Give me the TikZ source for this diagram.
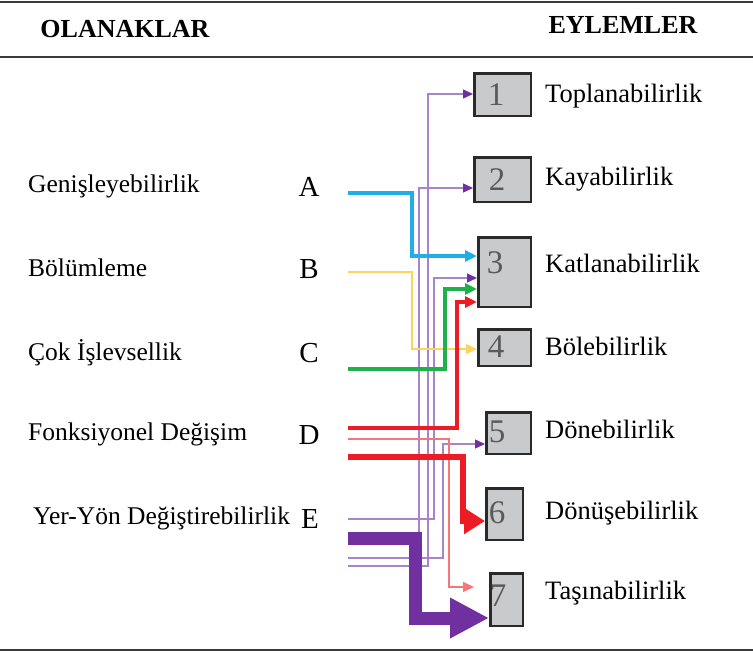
\documentclass[tikz,border=0pt]{standalone}
\usepackage{fontspec}
\setmainfont{Liberation Serif}
\usepackage{xcolor}
\usepackage{tikz}
\usetikzlibrary{arrows.meta, positioning}

\definecolor{boxgray}{HTML}{C9CACC}
\definecolor{boxedge}{HTML}{2A2A2A}
\definecolor{numgray}{HTML}{5A5A5A}
\definecolor{rulegray}{HTML}{3A3A3A}
\definecolor{skyblue}{HTML}{1FAFE6}
\definecolor{softyellow}{HTML}{FFD45C}
\definecolor{leafgreen}{HTML}{1EB04A}
\definecolor{brightred}{HTML}{ED1C24}
\definecolor{palered}{HTML}{F47676}
\definecolor{darkpurple}{HTML}{7030A0}
\definecolor{lightpurple}{HTML}{A884CB}

\begin{document}
\begin{tikzpicture}[x=1pt, y=-1pt,
        num_box/.style={rectangle, draw=boxedge, fill=boxgray, line width=2.5pt, inner sep=0pt},
        num_text/.style={text=numgray, inner sep=0pt, font=\fontsize{33}{37}\selectfont},
        side_label/.style={anchor=west, inner sep=0pt, font=\fontsize{25.5}{30}\selectfont},
        act_label/.style={anchor=west, inner sep=0pt, font=\fontsize{26.5}{31}\selectfont},
        letter/.style={inner sep=0pt, font=\fontsize{29}{34}\selectfont},
        head/.style={inner sep=0pt, font=\fontsize{26}{30}\selectfont\bfseries},
        rule/.style={line width=2pt, rulegray},
        thin_purple/.style={line width=1.3pt, lightpurple, -{Triangle[length=10pt, width=9pt, color=darkpurple]}},
        mid_arrow/.style={line width=3.5pt, #1, -{Triangle[length=12pt, width=11pt]}},
        fine_arrow/.style={line width=1.3pt, #1, -{Triangle[length=11pt, width=10pt]}}
    ]
    \useasboundingbox (0,0) rectangle (753,653);

    % Table rules
    \draw[rule] (0,2) -- (753,2);
    \draw[rule] (0,57) -- (753,57);
    \draw[rule] (0,650) -- (753,650);

    % Headers
    \node[head] (olanak) at (125,29) {OLANAKLAR};
    \node[head] (eylem) at (623,25) {EYLEMLER};

    % Affordances
    \node[side_label] (gen) at (28,186) {Genişleyebilirlik};
    \node[side_label] (bol) at (28,268) {Bölümleme};
    \node[side_label] (cok) at (28,353) {Çok İşlevsellik};
    \node[side_label] (fon) at (28,434) {Fonksiyonel Değişim};
    \node[side_label] (yer) at (33,518) {Yer-Yön Değiştirebilirlik};

    \node[letter] (la) at (309,187) {A};
    \node[letter] (lb) at (309,269) {B};
    \node[letter] (lc) at (309,353) {C};
    \node[letter] (ld) at (309,435) {D};
    \node[letter] (le) at (310,519) {E};

    % Action boxes
    \node[num_box, minimum width=56.5, minimum height=42.5] (box1) at (502.5,94.5) {};
    \node[num_box, minimum width=56.5, minimum height=44.5] (box2) at (502.5,179.5) {};
    \node[num_box, minimum width=52.5, minimum height=69.5] (box3) at (504.5,272) {};
    \node[num_box, minimum width=52.5, minimum height=36.5] (box4) at (504.5,347.5) {};
    \node[num_box, minimum width=44.5, minimum height=41.5] (box5) at (508.5,433) {};
    \node[num_box, minimum width=36.5, minimum height=51.5] (box6) at (504.5,514) {};
    \node[num_box, minimum width=32.5, minimum height=52.5] (box7) at (506.5,599.5) {};

    \node[num_text] (n1) at (496,95) {1};
    \node[num_text] (n2) at (497,180) {2};
    \node[num_text] (n3) at (495,263) {3};
    \node[num_text] (n4) at (496,347) {4};
    \node[num_text] (n5) at (497,432) {5};
    \node[num_text] (n6) at (497,513) {6};
    \node[num_text] (n7) at (498,596) {7};

    % Actions
    \node[act_label] (top) at (545,96) {Toplanabilirlik};
    \node[act_label] (kay) at (545,179) {Kayabilirlik};
    \node[act_label] (kat) at (545,263) {Katlanabilirlik};
    \node[act_label] (bole) at (545,346) {Bölebilirlik};
    \node[act_label] (done) at (545,429) {Dönebilirlik};
    \node[act_label] (donu) at (545,513) {Dönüşebilirlik};
    \node[act_label] (tas) at (545,593) {Taşınabilirlik};

    % Line starts
    \coordinate (a_out) at (348,193);
    \coordinate (b_out) at (348,272);
    \coordinate (c_out) at (348,369);
    \coordinate (d_out1) at (348,428);
    \coordinate (d_out2) at (348,439);
    \coordinate (d_out3) at (348,457);
    \coordinate (e_out1) at (348,519);
    \coordinate (e_out2) at (348,538);
    \coordinate (e_out3) at (348,558);
    \coordinate (e_out4) at (348,566);

    % E thin lines
    \draw[thin_purple] (e_out2) -- ++(71,0) |- (box2.west |- 0,188);
    \draw[thin_purple] (e_out4) -- ++(80,0) |- (box1.west |- 0,94);
    \draw[thin_purple] (e_out1) -- ++(86,0) |- (box3.west |- 0,278);
    \draw[thin_purple] (e_out3) -- ++(95,0) |- (box5.west |- 0,444);

    % A, B, C
    \draw[mid_arrow=skyblue] (a_out) -- ++(64,0) |- (box3.west |- 0,256);
    \draw[fine_arrow=softyellow] (b_out) -- ++(64,0) |- (box4.west |- 0,349);
    \draw[mid_arrow=leafgreen] (c_out) -- ++(97,0) |- (box3.west |- 0,289);

    % D
    \draw[mid_arrow=brightred] (d_out1) -- ++(109,0) |- (box3.west |- 0,302);
    \draw[fine_arrow=palered, shorten >=15pt] (d_out2) -- ++(101,0) |- (box7.west |- 0,587);
    \draw[line width=6.5pt, brightred, -{Triangle[length=21pt, width=25pt]}]
        (d_out3) -- ++(115,0) |- (box6.west |- 0,521);

    % E thick line
    \draw[line width=13pt, darkpurple, -{Triangle[length=39pt, width=38pt]}]
        (e_out2) -- ++(67,0) |- (box7.west |- 0,618);

\end{tikzpicture}
\end{document}
